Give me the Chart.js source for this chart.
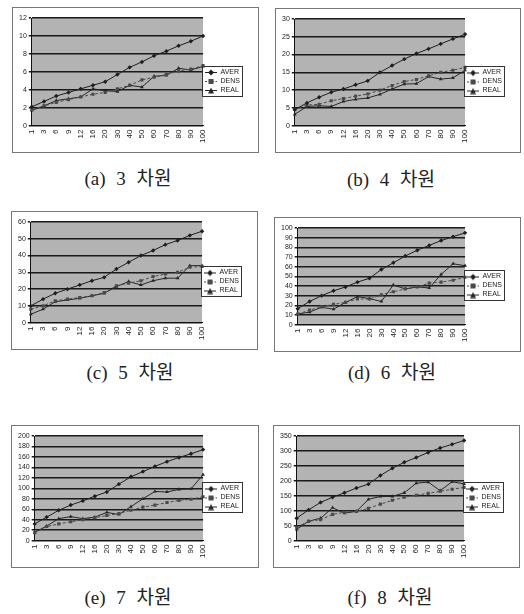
<!DOCTYPE html>
<html>
<head>
<meta charset="utf-8">
<script src="https://cdn.jsdelivr.net/npm/chart.js@4"></script>
<style>
body { margin:0; background:#fff; width:524px; height:614px; position:relative; overflow:hidden; }
.box { position:absolute; border:1px solid #777; background:#fff; }
.cap { position:absolute; width:220px; text-align:center; font-family:"Liberation Serif","Noto Sans CJK KR",serif; font-size:19px; word-spacing:6px; color:#222; }
</style>
</head>
<body>
<div class="box" style="left:12px;top:7px"><canvas id="c3" width="245" height="144"></canvas></div>
<div class="box" style="left:275px;top:8px"><canvas id="c4" width="244" height="143"></canvas></div>
<div class="box" style="left:11px;top:211px"><canvas id="c5" width="245" height="137"></canvas></div>
<div class="box" style="left:274px;top:217px"><canvas id="c6" width="245" height="133"></canvas></div>
<div class="box" style="left:11px;top:425px"><canvas id="c7" width="246" height="141"></canvas></div>
<div class="box" style="left:273px;top:425px"><canvas id="c8" width="245" height="141"></canvas></div>

<div class="cap" style="left:18px;top:163px">(a) 3 차원</div>
<div class="cap" style="left:281px;top:164px">(b) 4 차원</div>
<div class="cap" style="left:20px;top:357px">(c) 5 차원</div>
<div class="cap" style="left:282px;top:357px">(d) 6 차원</div>
<div class="cap" style="left:18px;top:582px">(e) 7 차원</div>
<div class="cap" style="left:280px;top:582px">(f) 8 차원</div>

<script>
// x axis: same for all six charts
var sizes = ['1', '3', '6', '9', '12', '16', '20', '30', '40', '50', '60', '70', '80', '90', '100'];
var seriesNames = ['AVER', 'DENS', 'REAL'];

// (a) 3 dims
var aver3 = [2.1, 2.7, 3.3, 3.7, 4.1, 4.5, 4.9, 5.7, 6.5, 7.1, 7.8, 8.3, 8.9, 9.4, 10.0];
var dens3 = [1.8, 2.2, 2.6, 2.9, 3.2, 3.5, 3.7, 4.1, 4.5, 5.1, 5.4, 5.7, 6.1, 6.3, 6.7];
var real3 = [1.7, 2.2, 2.8, 3.0, 3.2, 4.1, 3.9, 3.8, 4.5, 4.3, 5.5, 5.6, 6.4, 6.2, 6.6];
// (b) 4 dims
var aver4 = [4.5, 6.4, 8.0, 9.4, 10.3, 11.5, 12.6, 15.0, 16.9, 18.7, 20.3, 21.6, 23.0, 24.4, 25.7];
var dens4 = [4.6, 5.8, 6.0, 7.0, 7.6, 8.3, 8.9, 10.0, 11.3, 12.4, 13.0, 14.0, 15.0, 15.6, 16.4];
var real4 = [3.2, 5.4, 5.6, 5.4, 6.8, 7.4, 7.8, 8.8, 10.3, 11.7, 11.8, 13.8, 13.1, 13.4, 15.6];
// (c) 5 dims
var aver5 = [10, 14, 17.5, 20, 22.5, 25, 27, 32, 36, 40, 43, 46.5, 49, 52, 54.5];
var dens5 = [8, 10, 13, 14, 15, 16, 18, 22, 23.5, 25, 27.5, 29, 30, 33, 33.5];
var real5 = [5, 8, 12.5, 13.5, 14.5, 16, 17.5, 21.5, 24.5, 22.5, 25, 26.5, 26.5, 34, 34];
// (d) 6 dims
var aver6 = [16.5, 24, 30, 35, 39, 44, 48, 57, 64, 71, 77, 82, 87, 91, 95];
var dens6 = [11, 15, 18.5, 21, 23, 26.5, 26.5, 31, 34, 37, 39, 43, 44, 46, 49];
var real6 = [11, 13, 18, 16, 23, 29, 27, 24, 41, 37, 39, 38, 52, 63, 61];
// (e) 7 dims
var aver7 = [32, 45, 58, 68, 76, 85, 93, 108, 122, 132, 142, 151, 159, 166, 174];
var dens7 = [15, 27, 32, 36, 40, 44, 48, 52, 58, 64, 68, 73, 77, 79, 84];
var real7 = [16, 28, 42, 46, 42, 45, 54, 50, 65, 80, 94, 93, 98, 99, 126];
// (f) 8 dims
var aver8 = [75, 103, 128, 145, 160, 176, 189, 218, 242, 262, 278, 295, 310, 322, 335];
var dens8 = [45, 65, 70, 88, 95, 98, 108, 122, 135, 145, 152, 158, 165, 172, 178];
var real8 = [38, 65, 75, 110, 92, 98, 138, 148, 148, 160, 192, 196, 167, 197, 190];

// y axis max / step per chart
var yMax = [12, 30, 60, 100, 200, 350];
var yStep = [2, 5, 10, 10, 20, 50];

var lineCol = ['#1e1e1e', '#4a4a4a', '#262626'];
var marker = ['rectRot', 'rect', 'triangle'];
var dashes = [[], [3, 2], []];

function legendIcon(i) {
  var c = document.createElement('canvas');
  c.width = 12; c.height = 8;
  var g = c.getContext('2d');
  g.strokeStyle = lineCol[i];
  g.fillStyle = lineCol[i];
  g.lineWidth = 1;
  g.setLineDash(i == 1 ? [2, 1.5] : []);
  g.beginPath(); g.moveTo(0, 4.5); g.lineTo(12, 4.5); g.stroke();
  g.setLineDash([]);
  g.beginPath();
  if (i == 0) { g.moveTo(6, 1.5); g.lineTo(9, 4.5); g.lineTo(6, 7.5); g.lineTo(3, 4.5); }
  else if (i == 1) { g.rect(3.5, 2, 5, 5); }
  else { g.moveTo(6, 1.5); g.lineTo(9, 7.5); g.lineTo(3, 7.5); }
  g.closePath(); g.fill();
  return c;
}
var icons = [legendIcon(0), legendIcon(1), legendIcon(2)];

// gray plot background (painted behind what is already drawn) + frame round the legend
var decor = {
  id: 'decor',
  afterDraw: function(chart) {
    var a = chart.chartArea, ctx = chart.ctx;
    ctx.save();
    ctx.globalCompositeOperation = 'destination-over';
    ctx.fillStyle = '#b3b3b3';
    ctx.fillRect(a.left, a.top, a.right - a.left, a.bottom - a.top);
    ctx.restore();

    var boxes = chart.legend.legendHitBoxes;
    if (!boxes || !boxes.length) return;
    var x0 = 1e9, y0 = 1e9, x1 = -1e9, y1 = -1e9;
    boxes.forEach(function(b) {
      x0 = Math.min(x0, b.left); y0 = Math.min(y0, b.top);
      x1 = Math.max(x1, b.left + b.width); y1 = Math.max(y1, b.top + b.height);
    });
    ctx.save();
    ctx.strokeStyle = '#333';
    ctx.lineWidth = 1;
    ctx.strokeRect(Math.round(x0) - 2.5, Math.round(y0) - 2.5, Math.round(x1 - x0) + 5, Math.round(y1 - y0) + 5);
    ctx.restore();
  }
};

function makeChart(id, k, aver, dens, real) {
  var vals = [aver, dens, real];
  new Chart(document.getElementById(id), {
    type: 'line',
    data: {
      labels: sizes,
      datasets: vals.map(function(v, i) {
        return {
          label: seriesNames[i],
          data: v,
          borderColor: lineCol[i],
          backgroundColor: lineCol[i],
          borderWidth: 1,
          borderDash: dashes[i],
          pointStyle: marker[i],
          pointRadius: 2.2,
          pointBorderWidth: 0,
          tension: 0,
          fill: false
        };
      })
    },
    options: {
      responsive: false,
      animation: false,
      layout: { padding: { left: 4, right: 8, top: 10, bottom: 8 } },
      plugins: {
        title: { display: false },
        tooltip: { enabled: false },
        legend: {
          position: 'right',
          labels: {
            usePointStyle: true,
            pointStyleWidth: 12,
            padding: 2,
            color: '#222',
            font: { family: 'Liberation Sans', size: 7 },
            generateLabels: function(chart) {
              return seriesNames.map(function(n, i) {
                return { text: n, pointStyle: icons[i], fillStyle: lineCol[i], strokeStyle: lineCol[i], lineWidth: 0, datasetIndex: i, hidden: false, fontColor: '#222' };
              });
            }
          }
        }
      },
      scales: {
        x: {
          grid: { display: false, drawTicks: true, tickLength: 3 },
          border: { color: '#111' },
          ticks: { minRotation: 90, maxRotation: 90, autoSkip: false, padding: 1, color: '#222', font: { family: 'Liberation Sans', size: 8 } }
        },
        y: {
          min: 0,
          max: yMax[k],
          grid: { display: true, drawOnChartArea: true, color: '#1a1a1a', lineWidth: 1.5, drawTicks: true, tickLength: 3 },
          border: { color: '#111' },
          ticks: { stepSize: yStep[k], autoSkip: false, padding: 2, color: '#222', font: { family: 'Liberation Sans', size: 7 } }
        }
      }
    },
    plugins: [decor]
  });
}

makeChart('c3', 0, aver3, dens3, real3);
makeChart('c4', 1, aver4, dens4, real4);
makeChart('c5', 2, aver5, dens5, real5);
makeChart('c6', 3, aver6, dens6, real6);
makeChart('c7', 4, aver7, dens7, real7);
makeChart('c8', 5, aver8, dens8, real8);
</script>
</body>
</html>
